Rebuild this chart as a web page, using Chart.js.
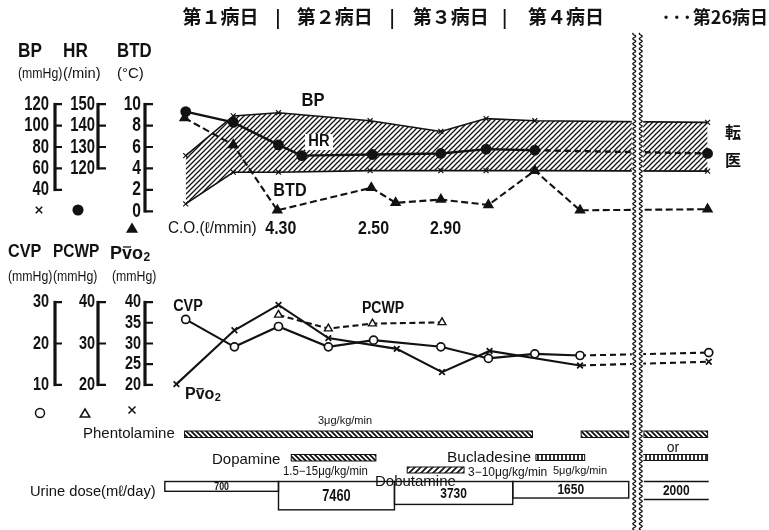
<!DOCTYPE html>
<html><head><meta charset="utf-8">
<script src="https://cdn.jsdelivr.net/npm/chart.js@4.4.1/dist/chart.umd.min.js"></script>
<style>html,body{margin:0;padding:0;background:#fff;}canvas{display:block;}</style>
</head><body>
<canvas id="c" width="769" height="530"></canvas>
<script>
// ---------------- DATA ----------------
const dayLabels = ['第１病日', '第２病日', '第３病日', '第４病日'];
const lastDayLabel = '···第26病日';

// time axis in days since admission (day 26 drawn after the break)
const bpTimes = [0.18, 0.59, 0.98, 1.77, 2.38, 2.77, 3.19, 4.68];
const bpSys   = [72, 109, 112, 104.5, 94.5, 106.5, 104.5, 103];
const bpDia   = [27, 56.5, 56.5, 58, 58, 58, 58, 57.5];

const hrTimes = [0.18, 0.59, 0.98, 1.18, 1.79, 2.38, 2.77, 3.19, 4.68];
const hrVals  = [146.5, 141.5, 131, 126, 126.5, 127, 129, 128.5, 127];

const btdTimes = [0.17, 0.59, 0.97, 1.78, 1.99, 2.38, 2.79, 3.19, 3.58, 4.68];
const btdVals  = [8.7, 6.2, 0.1, 2.2, 0.8, 1.1, 0.6, 3.8, 0.1, 0.2];

const coTimes  = [1.00, 1.80, 2.42];
const coValues = ['4.30', '2.50', '2.90'];

const cvpTimes = [0.18, 0.60, 0.98, 1.41, 1.80, 2.38, 2.79, 3.19, 3.58, 4.69];
const cvpVals  = [25.8, 19.2, 24.1, 19.2, 20.8, 19.2, 16.4, 17.5, 17.1, 17.8];

const pcwpTimes = [0.98, 1.41, 1.79, 2.39];
const pcwpVals  = [36.9, 33.6, 34.8, 35.1];

const pvo2Times = [0.10, 0.60, 0.98, 1.41, 2.00, 2.39, 2.80, 3.58, 4.69];
const pvo2Vals  = [20.2, 33.2, 39.3, 31.3, 28.7, 23.1, 28.2, 24.7, 25.6];

const bpTicks   = [120, 100, 80, 60, 40];
const hrTicks   = [150, 140, 130, 120];
const btdTicks  = [10, 8, 6, 4, 2, 0];
const cvpTicks  = [30, 20, 10];
const pcwpTicks = [40, 30, 20];
const pvo2Ticks = [40, 35, 30, 25, 20];

const phentolamine = [[0.17, 3.17], [3.59, 4.00], [4.13, 4.68]];
const dopamine     = [[1.09, 1.82]];
const dobutamine   = [[2.09, 2.58]];
const bucladesine  = [[3.20, 3.62], [4.12, 4.68]];

const urineSpans = [[0, 0.98], [0.98, 1.98], [1.98, 3.00], [3.00, 4.00], [4.13, 4.69]];
const urineVals  = [700, 7460, 3730, 1650, 2000];

// ---------------- STYLE / LAYOUT ----------------
const W = 769, H = 530;
const INK = '#121212';
const SANS = '"Liberation Sans", Arial, Helvetica, sans-serif';
const CJK = '"Noto Sans CJK JP", "Noto Sans CJK SC", sans-serif';

function range(refVal, refPx, ppu) { return { min: refVal - (H - refPx) / ppu, max: refVal + refPx / ppu }; }
const xPPU = 118, x0px = 161;

function pattern(kind, size, lw) {
  const c = document.createElement('canvas'); c.width = c.height = size;
  const g = c.getContext('2d');
  g.strokeStyle = INK; g.lineWidth = lw;
  g.beginPath();
  if (kind === '/') {
    g.moveTo(-1, size + 1); g.lineTo(size + 1, -1);
    g.moveTo(-1, 1); g.lineTo(1, -1);
    g.moveTo(size - 1, size + 1); g.lineTo(size + 1, size - 1);
  } else if (kind === '\\') {
    g.moveTo(-1, -1); g.lineTo(size + 1, size + 1);
    g.moveTo(size - 1, -1); g.lineTo(size + 1, 1);
    g.moveTo(-1, size - 1); g.lineTo(1, size + 1);
  } else {
    g.moveTo(size / 2, 0); g.lineTo(size / 2, size);
  }
  g.stroke();
  return g.createPattern(c, 'repeat');
}
const hatchBP = pattern('/', 5, 1.25);
const hatchBack = pattern('\\', 5, 1.8);
const hatchFwd = pattern('/', 6, 1.7);
const hatchVert = pattern('|', 4, 1.7);

const pts = (xs, ys) => xs.map((x, i) => ({ x, y: ys[i] }));

function T(ctx, s, x, y, o = {}) {
  ctx.save();
  ctx.font = (o.bold ? 'bold ' : '') + (o.size || 15) + 'px ' + (o.family || SANS);
  ctx.textAlign = o.align || 'left';
  ctx.textBaseline = o.base || 'middle';
  ctx.fillStyle = o.color || INK;
  ctx.translate(x, y); ctx.scale(o.sx || 1, 1);
  ctx.fillText(s, 0, 0);
  ctx.restore();
}
function pvo2Text(ctx, x, y, size, bold) {
  ctx.save();
  const f = (bold ? 'bold ' : '');
  ctx.font = f + size + 'px ' + SANS; ctx.textBaseline = 'alphabetic'; ctx.fillStyle = INK;
  const wP = ctx.measureText('P').width; ctx.fillText('P', x, y);
  const wv = ctx.measureText('v').width; ctx.fillText('v', x + wP, y);
  ctx.fillText('o', x + wP + wv, y);
  const wo = ctx.measureText('o').width;
  ctx.strokeStyle = INK; ctx.lineWidth = 1.3;
  ctx.beginPath(); ctx.moveTo(x + wP + 1, y - size * 0.64); ctx.lineTo(x + wP + wv - 1, y - size * 0.64); ctx.stroke();
  ctx.font = f + Math.round(size * 0.68) + 'px ' + SANS;
  ctx.fillText('2', x + wP + wv + wo + 0.5, y + size * 0.12);
  ctx.restore();
}
function marker(ctx, kind, x, y, r, fill) {
  ctx.save(); ctx.strokeStyle = INK; ctx.fillStyle = fill || INK; ctx.lineWidth = 1.5;
  ctx.beginPath();
  if (kind === 'x') { ctx.moveTo(x - r, y - r); ctx.lineTo(x + r, y + r); ctx.moveTo(x + r, y - r); ctx.lineTo(x - r, y + r); ctx.stroke(); }
  else if (kind === 'o') { ctx.arc(x, y, r, 0, Math.PI * 2); ctx.fill(); ctx.stroke(); }
  else { ctx.moveTo(x, y - r); ctx.lineTo(x + r * 0.95, y + r * 0.6); ctx.lineTo(x - r * 0.95, y + r * 0.6); ctx.closePath(); ctx.fill(); ctx.stroke(); }
  ctx.restore();
}
function bracket(ctx, scale, ticks, x, cap, labelX, size, sx) {
  const y1 = scale.getPixelForValue(ticks[0]), y2 = scale.getPixelForValue(ticks[ticks.length - 1]);
  ctx.save(); ctx.strokeStyle = INK;
  ctx.lineWidth = 3.2; ctx.beginPath(); ctx.moveTo(x, y1 - 1.2); ctx.lineTo(x, y2 + 1.2); ctx.stroke();
  ctx.lineWidth = 2.2; ctx.beginPath();
  ticks.forEach(t => { const y = scale.getPixelForValue(t); ctx.moveTo(x, y); ctx.lineTo(x + cap, y); });
  ctx.stroke(); ctx.restore();
  ticks.forEach(t => T(ctx, String(t), labelX, scale.getPixelForValue(t), { size, sx, align: 'right', bold: true }));
}

const dashAfter = n => ({ borderDash: c => (c.p0DataIndex >= n ? [6, 4] : undefined) });

const datasets = [
  { label: 'BP sys', data: pts(bpTimes, bpSys), yAxisID: 'yBP', borderColor: INK, borderWidth: 1.6,
    pointStyle: 'crossRot', pointRadius: 3.5, pointBorderWidth: 1.2, pointBorderColor: INK,
    fill: '+1', backgroundColor: hatchBP },
  { label: 'BP dia', data: pts(bpTimes, bpDia), yAxisID: 'yBP', borderColor: INK, borderWidth: 1.6,
    pointStyle: 'crossRot', pointRadius: 3.5, pointBorderWidth: 1.2, pointBorderColor: INK,
    fill: false, backgroundColor: 'rgba(0,0,0,0)' },
  { label: 'HR', data: pts(hrTimes, hrVals), yAxisID: 'yHR', borderColor: INK, borderWidth: 2.4,
    pointStyle: 'circle', pointRadius: 4.2, pointBackgroundColor: INK, pointBorderColor: INK, segment: dashAfter(7) },
  { label: 'BTD', data: pts(btdTimes, btdVals), yAxisID: 'yBTD', borderColor: INK, borderWidth: 2.1,
    borderDash: [7, 3.5], pointStyle: 'triangle', pointRadius: 4.5, pointBackgroundColor: INK, pointBorderColor: INK },
  { label: 'CVP', data: pts(cvpTimes, cvpVals), yAxisID: 'yCVP', borderColor: INK, borderWidth: 2.1,
    pointStyle: 'circle', pointRadius: 4, pointBorderWidth: 1.7, pointBackgroundColor: '#fff', pointBorderColor: INK, segment: dashAfter(8) },
  { label: 'PCWP', data: pts(pcwpTimes, pcwpVals), yAxisID: 'yP', borderColor: INK, borderWidth: 2.1,
    borderDash: [6, 3.5], pointStyle: 'triangle', pointRadius: 4.5, pointBorderWidth: 1.4, pointBackgroundColor: '#fff', pointBorderColor: INK },
  { label: 'PvO2', data: pts(pvo2Times, pvo2Vals), yAxisID: 'yP', borderColor: INK, borderWidth: 2.1,
    pointStyle: 'crossRot', pointRadius: 4, pointBorderWidth: 1.7, pointBorderColor: INK, segment: dashAfter(7) }
];

const bgPlugin = { id: 'bg', beforeDraw(ch) { const c = ch.ctx; c.save(); c.fillStyle = '#fff'; c.fillRect(0, 0, W, H); c.restore(); } };

const annPlugin = {
  id: 'ann',
  afterDatasetsDraw(ch) {
    const ctx = ch.ctx, s = ch.scales, X = v => s.x.getPixelForValue(v);
    // titles
    const dayCenters = [0.48, 1.466, 2.466, 3.458];
    dayLabels.forEach((d, i) => T(ctx, d, X(dayCenters[i]), 17, { size: 19, bold: true, family: CJK, align: 'center' }));
    T(ctx, lastDayLabel, 768, 17, { size: 18, bold: true, family: CJK, align: 'right' });
    ctx.save(); ctx.strokeStyle = INK; ctx.lineWidth = 1.8; ctx.beginPath();
    [0.975, 1.96, 2.93].forEach(t => { ctx.moveTo(X(t), 9); ctx.lineTo(X(t), 29); }); ctx.stroke(); ctx.restore();

    // top headers
    T(ctx, 'BP', 18, 51, { size: 20, sx: 0.86, bold: true });
    T(ctx, 'HR', 63, 51, { size: 20, sx: 0.86, bold: true });
    T(ctx, 'BTD', 117, 51, { size: 20, sx: 0.84, bold: true });
    T(ctx, '(mmHg)', 18, 74, { size: 15, sx: 0.82 });
    T(ctx, '(/min)', 63, 74, { size: 15, sx: 0.98 });
    T(ctx, '(°C)', 117, 74, { size: 15 });
    bracket(ctx, s.yBP, bpTicks, 55, 7, 49, 20, 0.74);
    bracket(ctx, s.yHR, hrTicks, 98, 8, 95, 20, 0.74);
    bracket(ctx, s.yBTD, btdTicks, 145, 8, 141, 20, 0.78);
    marker(ctx, 'x', 39, 210, 3.2);
    marker(ctx, 'o', 78, 210, 4.8);
    marker(ctx, 't', 132, 229, 5);

    // C.O.
    T(ctx, 'C.O.(ℓ/mmin)', 168, 229, { size: 16, sx: 0.96 });
    coValues.forEach((v, i) => T(ctx, v, X(coTimes[i]), 229, { size: 19, bold: true, sx: 0.84, align: 'center' }));

    // bottom headers
    T(ctx, 'CVP', 8, 252, { size: 18, sx: 0.9, bold: true });
    T(ctx, 'PCWP', 53, 252, { size: 18, sx: 0.86, bold: true });
    pvo2Text(ctx, 110, 258.5, 18, true);
    T(ctx, '(mmHg)', 8, 277, { size: 15, sx: 0.82 });
    T(ctx, '(mmHg)', 53, 277, { size: 15, sx: 0.82 });
    T(ctx, '(mmHg)', 112, 277, { size: 15, sx: 0.82 });
    bracket(ctx, s.yCVP, cvpTicks, 55, 7, 49, 18.5, 0.78);
    bracket(ctx, s.yP, pcwpTicks, 98, 8, 95, 18.5, 0.78);
    bracket(ctx, s.yP, pvo2Ticks, 145, 8, 141, 18.5, 0.78);
    marker(ctx, 'o', 40, 413, 4.5, '#fff');
    marker(ctx, 't', 85, 414, 5, '#fff');
    marker(ctx, 'x', 132, 410, 3.5);

    // in-chart labels
    T(ctx, 'BP', 313, 101, { size: 18, align: 'center', bold: true, sx: 0.92 });
    ctx.save(); ctx.fillStyle = '#fff'; ctx.fillRect(305, 134, 28, 16); ctx.restore();
    T(ctx, 'HR', 319, 142, { size: 16, align: 'center', bold: true, sx: 0.92 });
    T(ctx, 'BTD', 290, 191, { size: 18, align: 'center', bold: true, sx: 0.9 });
    T(ctx, '転', 733, 132, { size: 16, bold: true, family: CJK, align: 'center' });
    T(ctx, '医', 733, 160, { size: 16, bold: true, family: CJK, align: 'center' });
    T(ctx, 'CVP', 188, 307, { size: 16, align: 'center', bold: true, sx: 0.9 });
    T(ctx, 'PCWP', 383, 309, { size: 16, align: 'center', bold: true, sx: 0.88 });
    pvo2Text(ctx, 185, 399, 16, true);

    // drug bars
    const bar = (spans, y1, y2, pat) => spans.forEach(([a, b]) => {
      ctx.save(); ctx.fillStyle = '#fff'; ctx.fillRect(X(a), y1, X(b) - X(a), y2 - y1);
      ctx.fillStyle = pat; ctx.fillRect(X(a), y1, X(b) - X(a), y2 - y1);
      ctx.strokeStyle = INK; ctx.lineWidth = 1; ctx.strokeRect(X(a), y1, X(b) - X(a), y2 - y1); ctx.restore();
    });
    bar(phentolamine, 431, 437.5, hatchBack);
    bar(dopamine, 454.5, 461, hatchBack);
    bar(dobutamine, 467, 473, hatchFwd);
    bar(bucladesine, 454.5, 460.5, hatchVert);
    T(ctx, 'Phentolamine', 83, 438, { size: 15, base: 'alphabetic' });
    T(ctx, '3μg/kg/min', 318, 424, { size: 11, base: 'alphabetic' });
    T(ctx, 'Dopamine', 212, 464, { size: 15, base: 'alphabetic' });
    T(ctx, '1.5−15μg/kg/min', 283, 475, { size: 12, sx: 0.95, base: 'alphabetic' });
    T(ctx, 'Bucladesine', 447, 462, { size: 15, base: 'alphabetic', sx: 1.03 });
    T(ctx, '3−10μg/kg/min', 468, 476, { size: 12, base: 'alphabetic' });
    T(ctx, '5μg/kg/min', 553, 474, { size: 11, base: 'alphabetic' });
    T(ctx, 'Dobutamine', 375, 486, { size: 15, base: 'alphabetic' });
    T(ctx, 'or', 673, 452, { size: 14, align: 'center', base: 'alphabetic' });

    // urine boxes
    T(ctx, 'Urine dose(mℓ/day)', 30, 496, { size: 15, base: 'alphabetic', sx: 0.98 });
    const top = s.yU.getPixelForValue(200);
    urineSpans.forEach(([a, b], i) => {
      const bot = s.yU.getPixelForValue(urineVals[i]);
      ctx.save(); ctx.strokeStyle = INK; ctx.lineWidth = 1.4;
      if (i < urineSpans.length - 1) ctx.strokeRect(X(a), top, X(b) - X(a), bot - top);
      else { ctx.beginPath(); ctx.moveTo(X(a), top); ctx.lineTo(X(b), top); ctx.moveTo(X(a), bot); ctx.lineTo(X(b), bot); ctx.stroke(); }
      ctx.restore();
      const sz = i === 0 ? 11 : (i === 1 ? 16 : 15);
      T(ctx, String(urineVals[i]), (X(a) + X(b)) / 2, (top + bot) / 2 + 0.5, { size: sz, bold: true, sx: 0.8, align: 'center' });
    });

    // axis break (wavy double line)
    const bx = X(4.0) + 3, by = 33;
    ctx.save(); ctx.fillStyle = '#fff'; ctx.fillRect(bx, by, 11.5, H - by);
    ctx.strokeStyle = INK; ctx.lineWidth = 1.4;
    [bx + 2.5, bx + 9].forEach(cx => {
      ctx.beginPath();
      for (let y = by; y <= H; y += 0.5) { const xx = cx + 1.4 * Math.sin(y * 2 * Math.PI / 5); y === by ? ctx.moveTo(xx, y) : ctx.lineTo(xx, y); }
      ctx.stroke();
    });
    ctx.restore();
  }
};

const rx = { min: -x0px / xPPU, max: (W - x0px) / xPPU };
const rBP = range(120, 100, 1.1), rHR = range(150, 100, 2.2), rBTD = range(10, 100, 11);
const rCVP = range(30, 303, 4.25), rP = range(40, 303, 4.25);
const uPPD = 18.5, uLog = Math.log10(200);
const rU = { min: Math.pow(10, uLog - 487 / uPPD), max: Math.pow(10, uLog + (H - 487) / uPPD) };

new Chart(document.getElementById('c'), {
  type: 'line',
  data: { datasets },
  options: {
    responsive: false, animation: false, devicePixelRatio: 1, events: [],
    layout: { padding: 0 },
    elements: { line: { tension: 0 } },
    plugins: { legend: { display: false }, tooltip: { enabled: false }, filler: { drawTime: 'beforeDatasetsDraw' } },
    scales: {
      x: { type: 'linear', display: false, min: rx.min, max: rx.max },
      yBP: { type: 'linear', display: false, min: rBP.min, max: rBP.max },
      yHR: { type: 'linear', display: false, min: rHR.min, max: rHR.max },
      yBTD: { type: 'linear', display: false, min: rBTD.min, max: rBTD.max },
      yCVP: { type: 'linear', display: false, min: rCVP.min, max: rCVP.max },
      yP: { type: 'linear', display: false, min: rP.min, max: rP.max },
      yU: { type: 'logarithmic', display: false, reverse: true, min: rU.min, max: rU.max }
    }
  },
  plugins: [bgPlugin, annPlugin]
});
</script>
</body></html>
